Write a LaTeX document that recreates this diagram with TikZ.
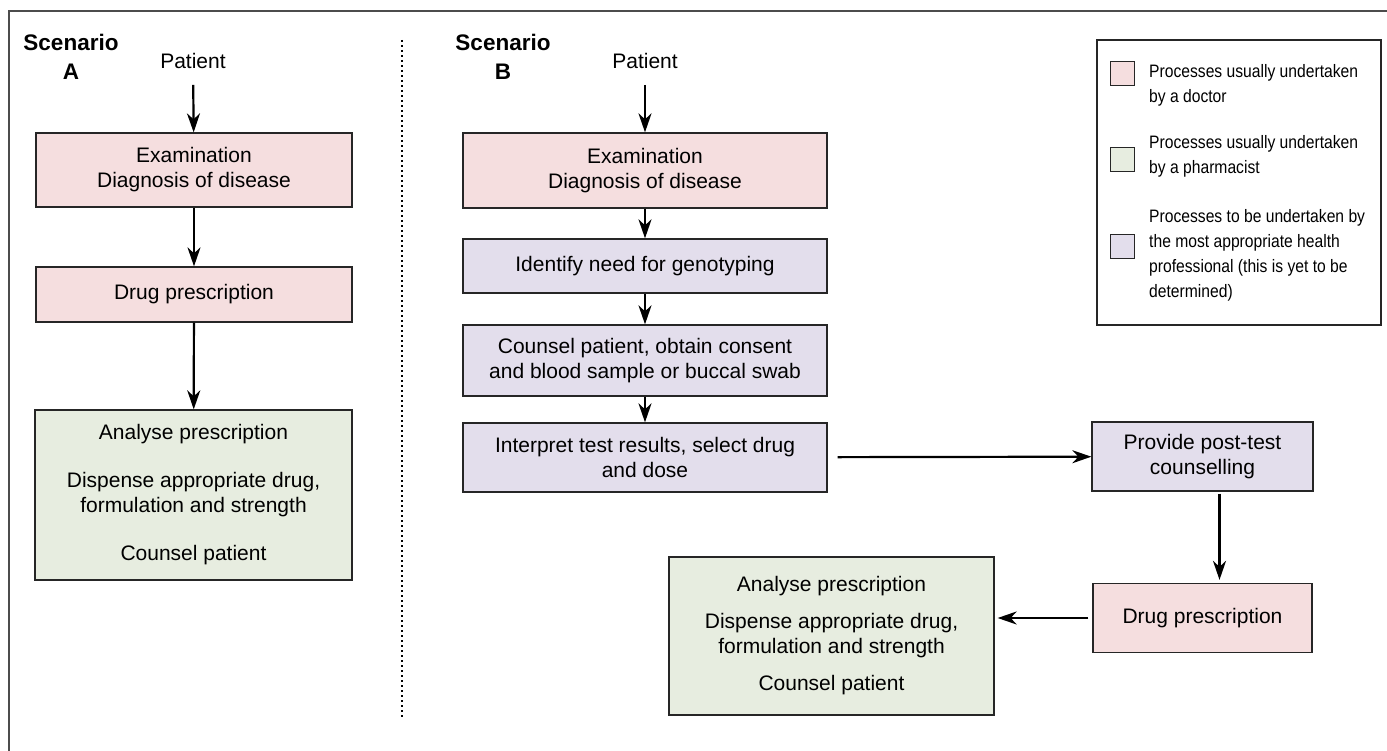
\documentclass[tikz,border=0pt]{standalone}
\usepackage{fontspec}
\setmainfont{Liberation Sans}
\newfontfamily\keyfont[FakeStretch=0.87]{Liberation Sans}
\usetikzlibrary{arrows.meta}
\definecolor{docpink}{RGB}{245,222,223}
\definecolor{pharmgreen}{RGB}{231,237,224}
\definecolor{profpurple}{RGB}{227,222,236}
\tikzset{
  proc/.style={draw=black!85, line width=1.3pt, align=center, inner sep=2pt},
  arr/.style={-{Stealth[length=19pt,width=13pt,inset=6pt]}, line width=2.2pt},
  swatch/.style={draw=black!85, line width=1pt, minimum width=24pt, minimum height=24pt},
  keytext/.style={anchor=north west, align=left, inner sep=0pt, font=\keyfont\fontsize{18}{25}\selectfont},
}
\begin{document}
\begin{tikzpicture}[x=1pt, y=-1pt, font=\fontsize{21}{25}\selectfont, inner sep=2pt]
  \useasboundingbox (0,0) rectangle (1387,751);
  \draw[gray!60!black, line width=2pt] (9,760) -- (9,11) -- (1395,11);
  \draw[line width=1.6pt, dash pattern=on 1.6pt off 3.4pt] (402,40) -- (402,717);

  % scenario A
  \node[align=center, font=\fontsize{22.5}{29}\selectfont\bfseries] (scenA) at (71,57) {Scenario\\A};
  \node (patA) at (193,61) {Patient};
  \node[proc, fill=docpink, minimum width=316pt, minimum height=74pt] (exA) at (194,170) {Examination\\Diagnosis of disease};
  \node[proc, fill=docpink, minimum width=316pt, minimum height=55pt] (drugA) at (194,294.5) {Drug prescription};
  \node[proc, fill=pharmgreen, minimum width=317pt, minimum height=170pt] (anaA) at (193.5,495)
    {Analyse prescription\\[23pt]Dispense appropriate drug,\\formulation and strength\\[23pt]Counsel patient};
  \draw[arr, shorten <=14pt] (patA) -- (exA);
  \draw[arr] (exA) -- (drugA);
  \draw[arr] (drugA) -- (anaA);

  % scenario B
  \node[align=center, font=\fontsize{22.5}{29}\selectfont\bfseries] (scenB) at (503,57) {Scenario\\B};
  \node (patB) at (645,61) {Patient};
  \node[proc, fill=docpink, minimum width=364pt, minimum height=75pt] (exB) at (645,170.5) {Examination\\Diagnosis of disease};
  \node[proc, fill=profpurple, minimum width=364pt, minimum height=54pt] (idB) at (645,266) {Identify need for genotyping};
  \node[proc, fill=profpurple, minimum width=364pt, minimum height=71pt] (couB) at (645,360.5)
    {Counsel patient, obtain consent\\and blood sample or buccal swab};
  \node[proc, fill=profpurple, minimum width=364pt, minimum height=69pt] (intB) at (645,457.5)
    {Interpret test results, select drug\\and dose};
  \node[proc, fill=profpurple, minimum width=221pt, minimum height=69pt] (postB) at (1202.5,456.5)
    {Provide post-test\\counselling};
  \node[proc, fill=docpink, minimum width=219pt, minimum height=69pt] (drugB) at (1202.5,618) {Drug prescription};
  \node[proc, fill=pharmgreen, minimum width=325pt, minimum height=158pt] (anaB) at (831.5,636)
    {Analyse prescription\\[12pt]Dispense appropriate drug,\\formulation and strength\\[12pt]Counsel patient};
  \draw[arr, shorten <=14pt] (patB) -- (exB);
  \draw[arr] (exB) -- (idB);
  \draw[arr] (idB) -- (couB);
  \draw[arr] (couB) -- (intB);
  \draw[arr, shorten <=10pt] (intB) -- (postB);
  \draw[arr, shorten <=2pt, shorten >=3pt] ([xshift=17pt]postB.south) -- ([xshift=17pt]drugB.north);
  \draw[arr, shorten <=4pt, shorten >=3pt] (drugB.west) -- (drugB.west -| anaB.east);

  % key
  \node[draw=black!85, line width=1.3pt, minimum width=284pt, minimum height=285pt] (key) at (1239,182.5) {};
  \node[swatch, fill=docpink] (keyDoc) at (1122,74) {};
  \node[swatch, fill=pharmgreen] (keyPharm) at (1122,160) {};
  \node[swatch, fill=profpurple] (keyProf) at (1122,247) {};
  \node[keytext] (txtDoc) at (1149,64) {Processes usually undertaken\\by a doctor};
  \node[keytext] (txtPharm) at (1149,135) {Processes usually undertaken\\by a pharmacist};
  \node[keytext] (txtProf) at (1149,209)
    {Processes to be undertaken by\\the most appropriate health\\professional (this is yet to be\\determined)};
\end{tikzpicture}
\end{document}
